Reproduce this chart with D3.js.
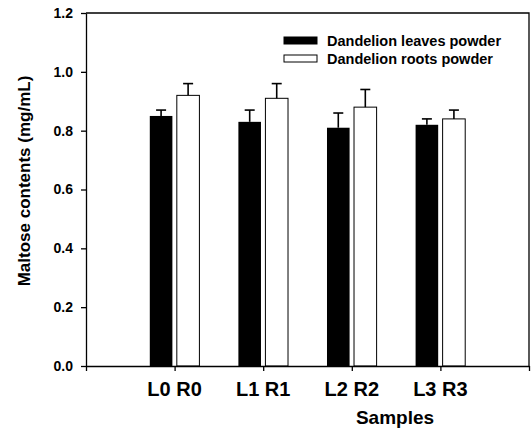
<!DOCTYPE html>
<html>
<head>
<meta charset="utf-8">
<script src="https://cdn.jsdelivr.net/npm/d3@7"></script>
<style>
  body { margin: 0; background: #fff; }
  text { font-family: "Liberation Sans", Arial, sans-serif; font-weight: bold; fill: #000; }
</style>
</head>
<body>
<div class="chart"></div>
<script>
const width = 532,
  height = 428;

// data
const samples = ["L0 R0", "L1 R1", "L2 R2", "L3 R3"];
const leaves = [0.85, 0.83, 0.81, 0.82];
const leavesErr = [0.02, 0.04, 0.05, 0.02];
const roots = [0.92, 0.91, 0.88, 0.84];
const rootsErr = [0.04, 0.05, 0.06, 0.03];
const yTicks = [0, 0.2, 0.4, 0.6, 0.8, 1.0, 1.2];
const xTicks = [0, 1, 2, 3, 4, 5];
const seriesNames = ["Dandelion leaves powder", "Dandelion roots powder"];

const plotLeft = 86,
  plotRight = 529,
  plotTop = 13,
  plotBottom = 366;

const svg = d3
  .select(".chart")
  .append("svg")
  .attr("width", width)
  .attr("height", height);

const xScale = d3.scaleLinear().domain([0, 5]).range([plotLeft, plotRight]);
const yScale = d3.scaleLinear().domain([0, 1.2]).range([plotBottom, plotTop]);

const barW = 0.255,
  gap = 0.05;

// frame top + right
svg
  .append("path")
  .attr("d", `M${plotLeft},${plotTop}H${plotRight}V${plotBottom}`)
  .attr("fill", "none")
  .attr("stroke", "#000")
  .attr("stroke-width", 1.3);

// bars: leaves (black) left of the tick, roots (white) right of it
const bw = xScale(barW) - xScale(0);

svg
  .selectAll("rect.leaves")
  .data(leaves)
  .enter()
  .append("rect")
  .attr("class", "leaves")
  .attr("x", (d, i) => xScale(i + 1 - gap / 2 - barW))
  .attr("y", (d) => yScale(d))
  .attr("width", bw)
  .attr("height", (d) => yScale(0) - yScale(d))
  .attr("fill", "#000");

svg
  .selectAll("rect.roots")
  .data(roots)
  .enter()
  .append("rect")
  .attr("class", "roots")
  .attr("x", (d, i) => xScale(i + 1 + gap / 2))
  .attr("y", (d) => yScale(d))
  .attr("width", bw)
  .attr("height", (d) => yScale(0) - yScale(d))
  .attr("fill", "#fff")
  .attr("stroke", "#000")
  .attr("stroke-width", 1);

// error bars (upper only)
function errBars(vals, errs, offset) {
  const g = svg.append("g").attr("stroke", "#000").attr("stroke-width", 1.6);
  vals.forEach((v, i) => {
    const cx = xScale(i + 1 + offset);
    g.append("line")
      .attr("x1", cx).attr("x2", cx)
      .attr("y1", yScale(v)).attr("y2", yScale(v + errs[i]));
    g.append("line")
      .attr("x1", cx - 5).attr("x2", cx + 5)
      .attr("y1", yScale(v + errs[i])).attr("y2", yScale(v + errs[i]));
  });
}
errBars(leaves, leavesErr, -gap / 2 - barW / 2);
errBars(roots, rootsErr, gap / 2 + barW / 2);

// axes
const yAxis = d3
  .axisLeft(yScale)
  .tickValues(yTicks)
  .tickFormat(d3.format(".1f"))
  .tickSize(5)
  .tickSizeOuter(0)
  .tickPadding(8);

const gy = svg
  .append("g")
  .attr("transform", `translate(${plotLeft},0)`)
  .call(yAxis);
gy.selectAll("text").style("font-size", "14px");

const xAxis = d3
  .axisBottom(xScale)
  .tickValues(xTicks)
  .tickFormat("")
  .tickSize(5)
  .tickSizeOuter(0);

svg
  .append("g")
  .attr("transform", `translate(0,${plotBottom})`)
  .call(xAxis);

svg.selectAll(".domain, .tick line").attr("stroke", "#000").attr("stroke-width", 1.3);

// sample labels
svg
  .selectAll("text.sample")
  .data(samples)
  .enter()
  .append("text")
  .attr("class", "sample")
  .attr("x", (d, i) => xScale(i + 1))
  .attr("y", 396)
  .attr("text-anchor", "middle")
  .style("font-size", "20px")
  .text((d) => d);

// axis titles
svg
  .append("text")
  .attr("x", 395)
  .attr("y", 424)
  .attr("text-anchor", "middle")
  .style("font-size", "19px")
  .text("Samples");

svg
  .append("text")
  .attr("transform", "translate(30,181) rotate(-90)")
  .attr("text-anchor", "middle")
  .style("font-size", "17px")
  .text("Maltose contents (mg/mL)");

// legend
const legend = svg
  .selectAll("g.legend")
  .data(seriesNames)
  .enter()
  .append("g")
  .attr("class", "legend")
  .attr("transform", (d, i) => `translate(284,${37 + i * 18})`);

legend
  .append("rect")
  .attr("width", 33)
  .attr("height", 7)
  .attr("fill", (d, i) => (i === 0 ? "#000" : "#fff"))
  .attr("stroke", "#000")
  .attr("stroke-width", 1);

legend
  .append("text")
  .attr("x", 43)
  .attr("y", 8.5)
  .style("font-size", "14.5px")
  .text((d) => d);
</script>
</body>
</html>
